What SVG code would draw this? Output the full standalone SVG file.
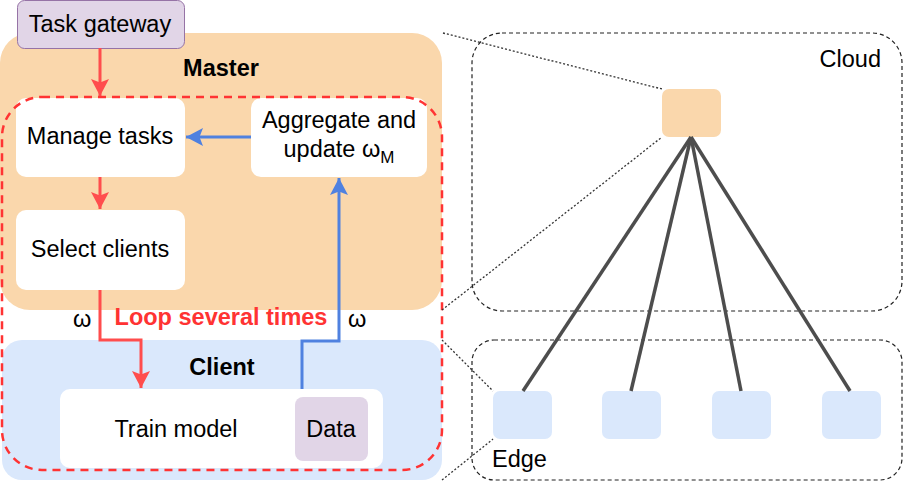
<svg xmlns="http://www.w3.org/2000/svg" width="903" height="483" viewBox="0 0 903 483">
<style>
text{font-family:"Liberation Sans",Arial,sans-serif;font-size:23.5px;fill:#000}
.b{font-weight:bold}
.c{text-anchor:middle}
.white{fill:#fff}
.red{fill:none;stroke:#ff4d4d;stroke-width:3}
.blue{fill:none;stroke:#4f81e0;stroke-width:3}
.dot{fill:none;stroke:#333;stroke-width:1.3;stroke-dasharray:2 2}
.dash{fill:none;stroke:#222;stroke-width:1.2;stroke-dasharray:4 3}
.link{stroke:#4d4d4d;stroke-width:3.5}
</style>
<defs>
<marker id="ar" markerUnits="userSpaceOnUse" markerWidth="20" markerHeight="20" refX="17" refY="9" orient="auto"><path d="M0,0 L17,9 L0,18 L3.5,9 Z" fill="#ff4d4d"/></marker>
<marker id="ab" markerUnits="userSpaceOnUse" markerWidth="20" markerHeight="20" refX="17" refY="9" orient="auto"><path d="M0,0 L17,9 L0,18 L3.5,9 Z" fill="#4f81e0"/></marker>
</defs>

<g id="master"><rect x="0" y="33" width="442" height="277" rx="30" fill="#fad7ac"/><text class="b c" x="221" y="76">Master</text></g>
<g id="client"><rect x="2" y="340" width="440" height="140" rx="20" fill="#dae8fc"/><text class="b c" x="222" y="375">Client</text></g>
<g id="task-gateway"><rect x="17.5" y="0.5" width="167" height="48" rx="7" fill="#e1d5e7" stroke="#9673a6"/><text class="c" x="100" y="32">Task gateway</text></g>
<g id="manage-tasks"><rect class="white" x="16" y="98" width="169" height="79" rx="10"/><text class="c" x="100" y="144">Manage tasks</text></g>
<g id="aggregate"><rect class="white" x="251" y="98" width="176" height="79" rx="10"/><text class="c" x="339" y="128">Aggregate and</text><text class="c" x="339" y="157">update ω<tspan font-size="17" dy="6">M</tspan></text></g>
<g id="select-clients"><rect class="white" x="16" y="210" width="169" height="80" rx="10"/><text class="c" x="100" y="257">Select clients</text></g>
<g id="train-model"><rect class="white" x="60" y="389" width="323" height="79" rx="10"/><text class="c" x="176" y="437">Train model</text></g>
<g id="data"><rect x="295" y="397" width="73" height="64" rx="8" fill="#e1d5e7"/><text class="c" x="331" y="437">Data</text></g>

<g id="loop"><rect x="2" y="97" width="440" height="373" rx="40" fill="none" stroke="#ff3333" stroke-width="2.5" stroke-dasharray="8 6"/><text class="b c" x="221" y="325" style="fill:#ff3333">Loop several times</text></g>

<g id="cloud"><rect class="dash" x="472" y="33" width="430" height="278" rx="30"/><text x="881" y="67" text-anchor="end">Cloud</text><rect id="cloud-node" x="662" y="89" width="59" height="48" rx="7" fill="#fad7ac"/></g>
<g id="edge"><rect class="dash" x="472" y="340" width="430" height="140" rx="22"/><text x="492" y="467">Edge</text>
<rect x="493" y="391" width="59" height="48" rx="7" fill="#dae8fc"/>
<rect x="602" y="391" width="59" height="48" rx="7" fill="#dae8fc"/>
<rect x="712" y="391" width="59" height="48" rx="7" fill="#dae8fc"/>
<rect x="822" y="391" width="59" height="48" rx="7" fill="#dae8fc"/></g>

<g id="connectors">
<path class="red" d="M100,48 V96" marker-end="url(#ar)"/>
<path class="red" d="M100,177 V209" marker-end="url(#ar)"/>
<path class="red" d="M100,290 V340 H141 V388" marker-end="url(#ar)"/>
<path class="blue" d="M302,389 V341 H339 V178" marker-end="url(#ab)"/>
<path class="blue" d="M251,137 H186" marker-end="url(#ab)"/>
<text x="73" y="327">ω</text>
<text x="348" y="327">ω</text>
<line class="link" x1="691" y1="137" x2="523" y2="391"/>
<line class="link" x1="691" y1="137" x2="631" y2="391"/>
<line class="link" x1="691" y1="137" x2="741" y2="391"/>
<line class="link" x1="691" y1="137" x2="850" y2="391"/>
<line class="dot" x1="443" y1="33" x2="662" y2="89"/>
<line class="dot" x1="442" y1="310" x2="662" y2="137"/>
<line class="dot" x1="442" y1="340" x2="493" y2="391"/>
<line class="dot" x1="442" y1="480" x2="493" y2="439"/>
</g>
</svg>
